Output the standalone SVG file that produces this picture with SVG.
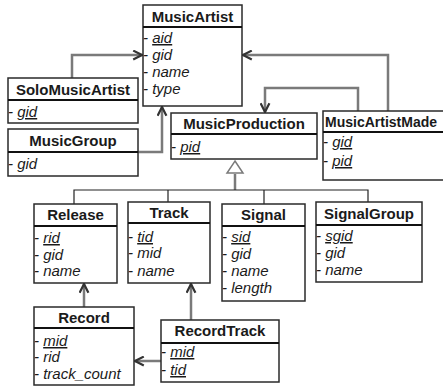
<svg xmlns="http://www.w3.org/2000/svg" width="443" height="388" viewBox="0 0 443 388">
<style>
.box{fill:#fff;stroke:#2a2a2a;stroke-width:1.5}
.sep{stroke:#111;stroke-width:2}
.t{font-family:"Liberation Sans",Arial,sans-serif;font-size:15px;font-weight:bold;fill:#1a1a1a;text-anchor:middle}
.a{font-family:"Liberation Sans",Arial,sans-serif;font-size:15px;font-style:italic;fill:#1a1a1a}
.u{text-decoration:underline}
.c{fill:none;stroke:#7a7a7a;stroke-width:2.5}
.h{fill:none;stroke:#222;stroke-width:1.2}
</style>
<defs>
<marker id="arr" viewBox="0 0 10 10" refX="9" refY="5" markerWidth="4.4" markerHeight="4.4" orient="auto" markerUnits="strokeWidth">
<path d="M1,1 L9,5 L1,9" fill="none" stroke="#333" stroke-width="2"/>
</marker>
</defs>
<g id="connectors">
<path class="c" d="M72,78 V55 H142" marker-end="url(#arr)"/>
<path class="c" d="M138,152 H162 V107" marker-end="url(#arr)"/>
<path class="c" d="M388,111 V55 H243" marker-end="url(#arr)"/>
<path class="c" d="M358,111 V88 H265 V112" marker-end="url(#arr)"/>
<path class="c" d="M84,307 V284" marker-end="url(#arr)"/>
<path class="c" d="M191,320 V284" marker-end="url(#arr)"/>
<path class="c" d="M161,361 H135" marker-end="url(#arr)"/>
<path class="c" d="M235,174 V190"/>
<path d="M235,161 L243,173 L227,173 Z" fill="#fff" stroke="#7a7a7a" stroke-width="1.5"/>
<path class="h" d="M74,204 V190 H368 V202 M168,190 V202 M264,190 V204"/>
</g>
<g id="MusicArtist">
<rect class="box" x="143" y="5" width="99" height="101"/>
<line class="sep" x1="143" y1="27" x2="242" y2="27"/>
<text class="t" x="192.5" y="22">MusicArtist</text>
<text class="a" x="143" y="43">- <tspan class="u">aid</tspan></text>
<text class="a" x="143" y="60">- gid</text>
<text class="a" x="143" y="77">- name</text>
<text class="a" x="143" y="94">- type</text>
</g>
<g id="SoloMusicArtist">
<rect class="box" x="8" y="78" width="130" height="45"/>
<line class="sep" x1="8" y1="100" x2="138" y2="100"/>
<text class="t" x="73" y="95">SoloMusicArtist</text>
<text class="a" x="8" y="117">- <tspan class="u">gid</tspan></text>
</g>
<g id="MusicGroup">
<rect class="box" x="8" y="129" width="130" height="47"/>
<line class="sep" x1="8" y1="152" x2="138" y2="152"/>
<text class="t" x="73" y="146">MusicGroup</text>
<text class="a" x="8" y="169">- gid</text>
</g>
<g id="MusicProduction">
<rect class="box" x="171" y="113" width="146" height="46"/>
<line class="sep" x1="171" y1="134" x2="317" y2="134"/>
<text class="t" x="244" y="129">MusicProduction</text>
<text class="a" x="171" y="152">- <tspan class="u">pid</tspan></text>
</g>
<g id="MusicArtistMade">
<rect class="box" x="323" y="111" width="130" height="69"/>
<line class="sep" x1="323" y1="132" x2="453" y2="132"/>
<text class="t" x="325" y="127" style="text-anchor:start;font-size:14px">MusicArtistMade</text>
<text class="a" x="323" y="147">- <tspan class="u">gid</tspan></text>
<text class="a" x="323" y="166">- <tspan class="u">pid</tspan></text>
</g>
<g id="Release">
<rect class="box" x="34" y="204" width="83" height="79"/>
<line class="sep" x1="34" y1="226" x2="117" y2="226"/>
<text class="t" x="75.5" y="220">Release</text>
<text class="a" x="34" y="243">- <tspan class="u">rid</tspan></text>
<text class="a" x="34" y="260">- gid</text>
<text class="a" x="34" y="276">- name</text>
</g>
<g id="Track">
<rect class="box" x="128" y="202" width="82" height="81"/>
<line class="sep" x1="128" y1="223" x2="210" y2="223"/>
<text class="t" x="169" y="218">Track</text>
<text class="a" x="128" y="242">- <tspan class="u">tid</tspan></text>
<text class="a" x="128" y="258">- mid</text>
<text class="a" x="128" y="276">- name</text>
</g>
<g id="Signal">
<rect class="box" x="222" y="204" width="83" height="97"/>
<line class="sep" x1="222" y1="226" x2="305" y2="226"/>
<text class="t" x="263.5" y="220">Signal</text>
<text class="a" x="222" y="242">- <tspan class="u">sid</tspan></text>
<text class="a" x="222" y="259">- gid</text>
<text class="a" x="222" y="276">- name</text>
<text class="a" x="222" y="293">- length</text>
</g>
<g id="SignalGroup">
<rect class="box" x="316" y="202" width="106" height="80"/>
<line class="sep" x1="316" y1="225" x2="422" y2="225"/>
<text class="t" x="369" y="219">SignalGroup</text>
<text class="a" x="316" y="241">- <tspan class="u">sgid</tspan></text>
<text class="a" x="316" y="258">- gid</text>
<text class="a" x="316" y="275">- name</text>
</g>
<g id="Record">
<rect class="box" x="34" y="307" width="100" height="78"/>
<line class="sep" x1="34" y1="328" x2="134" y2="328"/>
<text class="t" x="84" y="323">Record</text>
<text class="a" x="34" y="346">- <tspan class="u">mid</tspan></text>
<text class="a" x="34" y="362">- rid</text>
<text class="a" x="34" y="379">- track_count</text>
</g>
<g id="RecordTrack">
<rect class="box" x="161" y="320" width="118" height="62"/>
<line class="sep" x1="161" y1="343" x2="279" y2="343"/>
<text class="t" x="220" y="336">RecordTrack</text>
<text class="a" x="161" y="357">- <tspan class="u">mid</tspan></text>
<text class="a" x="161" y="375">- <tspan class="u">tid</tspan></text>
</g>
</svg>
